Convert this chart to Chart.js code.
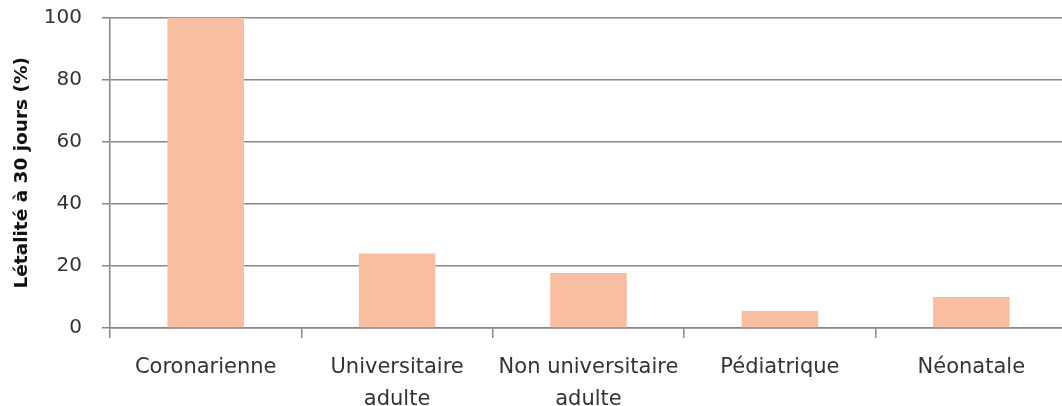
<!DOCTYPE html>
<html>
<head>
<meta charset="utf-8">
<script src="https://cdn.jsdelivr.net/npm/chart.js@4"></script>
<style>
  html, body { margin: 0; padding: 0; background: #fff; overflow: hidden; }
  #wrap { width: 1068px; height: 406px; }
</style>
</head>
<body>
<div id="wrap"><canvas id="letaliteChart"></canvas></div>
<script>
const categories = [
    'Coronarienne',
    ['Universitaire', 'adulte'],
    ['Non universitaire', 'adulte'],
    'Pédiatrique',
    'Néonatale'
];
const letalite = [100, 24, 17.7, 5.5, 10];
const yTicks = [0, 20, 40, 60, 80, 100];

const gridColor = '#878787';
const textColor = '#333333';

const config = {
    type: 'bar',
    data: {
        labels: categories,
        datasets: [{
            label: 'Létalité à 30 jours (%)',
            data: letalite,
            backgroundColor: '#f9bea2',
            borderWidth: 0,
            barPercentage: 0.4,
            categoryPercentage: 1
        }]
    },
    options: {
        responsive: true,
        maintainAspectRatio: false,
        animation: false,
        layout: { padding: { top: 0, right: 1, bottom: 0, left: 11 } },
        plugins: {
            legend: { display: false },
            tooltip: { enabled: false }
        },
        scales: {
            x: {
                afterFit: (axis) => { axis.height = 78; },
                grid: {
                    offset: true,
                    drawOnChartArea: false,
                    drawTicks: true,
                    tickLength: 10,
                    color: gridColor,
                    lineWidth: 1.5
                },
                border: { display: true, color: gridColor, width: 1.5 },
                ticks: {
                    color: textColor,
                    maxRotation: 0,
                    autoSkip: false,
                    padding: 14,
                    font: { family: 'DejaVu Sans', size: 21, lineHeight: 1.5 }
                }
            },
            y: {
                min: 0,
                max: 100,
                afterBuildTicks: (axis) => { axis.ticks = yTicks.map(v => ({ value: v })); },
                afterFit: (axis) => {
                    axis.width = 99;
                    axis.paddingTop = 17.5;
                    axis.paddingBottom = 0;
                },
                grid: {
                    color: gridColor,
                    lineWidth: 1.5,
                    tickLength: 8
                },
                border: { display: true, color: gridColor, width: 1.5 },
                ticks: {
                    color: textColor,
                    padding: 20,
                    font: { family: 'DejaVu Sans', size: 20 }
                },
                title: {
                    display: true,
                    text: 'Létalité à 30 jours (%)',
                    color: '#111',
                    padding: { top: 0, bottom: 2 },
                    font: { family: 'DejaVu Sans', size: 18.5, weight: 'bold' }
                }
            }
        }
    }
};

new Chart(document.getElementById('letaliteChart'), config);
</script>
</body>
</html>
